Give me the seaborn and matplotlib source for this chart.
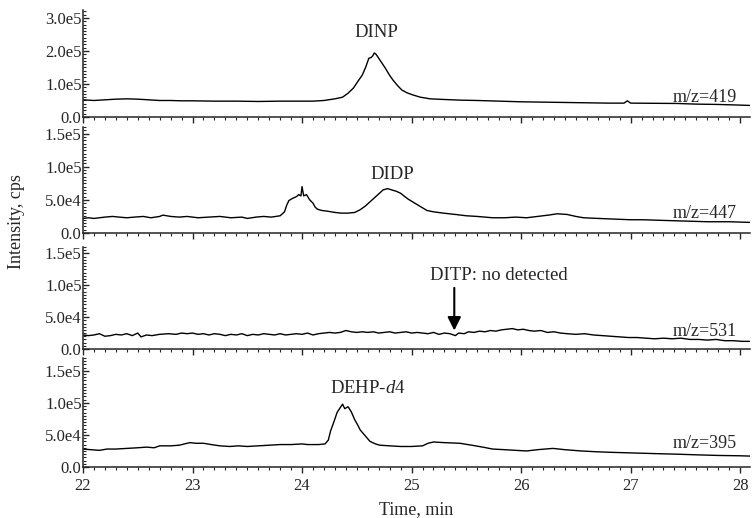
import numpy as np
import pandas as pd
import matplotlib
matplotlib.use("Agg")
import matplotlib.pyplot as plt
import seaborn as sns
from matplotlib.ticker import MultipleLocator, FuncFormatter

# ---------------- data (intensities in units of 1e4 cps) ----------------
t_419 = [22.0, 22.1, 22.2, 22.3, 22.4, 22.5, 22.6, 22.7, 22.8, 22.9, 23.0, 23.2, 23.4, 23.6, 23.8,
         24.0, 24.1, 24.2, 24.3, 24.37, 24.42, 24.47, 24.51, 24.55, 24.58, 24.61, 24.63, 24.645,
         24.66, 24.675, 24.69, 24.72, 24.76, 24.8, 24.83, 24.87, 24.91, 24.96, 25.01, 25.08, 25.17,
         25.3, 25.45, 25.6, 25.8, 26.0, 26.2, 26.4, 26.6, 26.8, 26.94, 26.97, 27.0, 27.2, 27.42,
         27.6, 27.8, 28.0, 28.09]
i_419 = [5.2, 5.0, 5.2, 5.4, 5.5, 5.4, 5.2, 5.0, 5.0, 4.9, 4.9, 4.8, 4.8, 4.7, 4.8,
         4.8, 4.8, 5.0, 5.5, 6.0, 7.2, 8.8, 10.8, 12.7, 15.0, 17.8, 18.0, 18.5,
         19.4, 19.0, 18.3, 16.8, 14.8, 12.6, 11.2, 9.6, 8.2, 7.3, 6.7, 6.0, 5.5,
         5.3, 5.1, 5.0, 4.8, 4.6, 4.5, 4.4, 4.3, 4.2, 4.2, 4.9, 4.2, 4.15, 4.1,
         3.9, 3.8, 3.6, 3.5]

t_447 = [22.0, 22.05, 22.1, 22.15, 22.2, 22.27, 22.33, 22.4, 22.47, 22.55, 22.62, 22.7, 22.73,
         22.8, 22.88, 22.95, 23.05, 23.15, 23.25, 23.35, 23.45, 23.5, 23.58, 23.65, 23.72, 23.8,
         23.84, 23.86, 23.88, 23.91, 23.95, 23.97, 23.99, 24.0, 24.015, 24.04, 24.07, 24.1, 24.12,
         24.14, 24.18, 24.23, 24.3, 24.36, 24.42, 24.48, 24.53, 24.58, 24.62, 24.66, 24.7, 24.74,
         24.78, 24.82, 24.86, 24.9, 24.93, 24.97, 25.01, 25.05, 25.08, 25.14, 25.2, 25.29, 25.4,
         25.5, 25.6, 25.74, 25.85, 25.95, 26.05, 26.15, 26.25, 26.33, 26.42, 26.5, 26.57, 26.7,
         26.85, 27.0, 27.11, 27.3, 27.5, 27.7, 27.9, 28.09]
i_447 = [2.2, 2.3, 2.2, 2.3, 2.4, 2.5, 2.4, 2.3, 2.4, 2.5, 2.3, 2.5, 2.7,
         2.5, 2.4, 2.5, 2.3, 2.4, 2.5, 2.3, 2.4, 2.2, 2.4, 2.5, 2.4, 2.6,
         3.2, 4.2, 4.9, 5.2, 5.5, 5.8, 5.6, 7.0, 5.6, 5.8, 5.0, 4.5, 3.9,
         3.6, 3.4, 3.3, 3.1, 3.0, 3.0, 3.1, 3.5, 4.1, 4.7, 5.3, 5.9, 6.5,
         6.7, 6.5, 6.3, 6.0, 5.6, 5.1, 4.7, 4.3, 4.0, 3.4, 3.2, 3.0, 2.8,
         2.6, 2.5, 2.3, 2.3, 2.4, 2.3, 2.5, 2.7, 2.9, 2.8, 2.5, 2.3, 2.2,
         2.1, 2.0, 2.0, 1.9, 1.8, 1.7, 1.7, 1.6]

t_531 = [22.0, 22.05, 22.1, 22.15, 22.2, 22.25, 22.3, 22.35, 22.4, 22.45, 22.5, 22.53, 22.58,
         22.63, 22.7, 22.78, 22.85, 22.9, 22.95, 23.0, 23.05, 23.1, 23.15, 23.2, 23.25, 23.3,
         23.35, 23.4, 23.45, 23.5, 23.55, 23.6, 23.65, 23.7, 23.75, 23.8, 23.85, 23.9, 23.95,
         24.0, 24.05, 24.1, 24.15, 24.2, 24.25, 24.3, 24.35, 24.4, 24.45, 24.5, 24.55, 24.6,
         24.65, 24.7, 24.75, 24.8, 24.85, 24.9, 24.95, 25.0, 25.05, 25.1, 25.15, 25.2, 25.25,
         25.3, 25.35, 25.4, 25.43, 25.48, 25.52, 25.57, 25.62, 25.67, 25.72, 25.77, 25.82, 25.87,
         25.92, 25.97, 26.02, 26.07, 26.12, 26.18, 26.24, 26.3, 26.36, 26.42, 26.5, 26.58, 26.66,
         26.74, 26.82, 26.9, 26.98, 27.06, 27.14, 27.22, 27.3, 27.38, 27.46, 27.54, 27.62, 27.7,
         27.78, 27.86, 27.94, 28.02, 28.09]
i_531 = [2.2, 2.1, 2.2, 2.4, 2.0, 2.1, 2.3, 2.2, 2.4, 2.1, 2.5, 1.9, 2.2,
         2.1, 2.3, 2.4, 2.3, 2.5, 2.4, 2.5, 2.3, 2.4, 2.2, 2.4, 2.3, 2.1,
         2.3, 2.2, 2.4, 2.1, 2.3, 2.2, 2.4, 2.3, 2.2, 2.4, 2.2, 2.3, 2.4,
         2.3, 2.5, 2.2, 2.4, 2.5, 2.6, 2.5, 2.6, 2.9, 2.7, 2.6, 2.7, 2.6,
         2.7, 2.5, 2.6, 2.7, 2.5, 2.6, 2.7, 2.5, 2.6, 2.5, 2.4, 2.6, 2.3,
         2.5, 2.4, 2.1, 2.5, 2.4, 2.7, 2.6, 2.8, 2.7, 2.9, 2.8, 3.0, 3.1,
         3.2, 3.0, 3.1, 2.9, 2.8, 2.9, 2.6, 2.7, 2.5, 2.4, 2.3, 2.4, 2.2,
         2.1, 2.0, 1.9, 1.8, 1.8, 1.7, 1.6, 1.7, 1.6, 1.7, 1.5, 1.5, 1.4,
         1.5, 1.3, 1.3, 1.2, 1.2]

t_395 = [22.0, 22.07, 22.15, 22.22, 22.3, 22.4, 22.5, 22.58, 22.65, 22.7, 22.8, 22.88, 22.95,
         22.98, 23.03, 23.1, 23.17, 23.25, 23.34, 23.42, 23.5, 23.6, 23.7, 23.8, 23.9, 24.0,
         24.05, 24.15, 24.21, 24.24, 24.26, 24.29, 24.32, 24.35, 24.37, 24.39, 24.42, 24.45,
         24.48, 24.51, 24.53, 24.57, 24.62, 24.67, 24.71, 24.8, 24.9, 25.0, 25.1, 25.15, 25.2,
         25.3, 25.44, 25.55, 25.65, 25.74, 25.85, 25.95, 26.05, 26.15, 26.29, 26.4, 26.55, 26.66,
         26.8, 27.0, 27.2, 27.42, 27.6, 27.8, 28.0, 28.09]
i_395 = [2.8, 2.7, 2.6, 2.8, 2.8, 2.9, 3.0, 3.1, 3.0, 3.3, 3.3, 3.4, 3.7,
         3.8, 3.7, 3.7, 3.5, 3.3, 3.2, 3.3, 3.2, 3.3, 3.4, 3.5, 3.5, 3.6,
         3.5, 3.5, 3.6, 4.2, 5.6, 7.0, 8.5, 9.3, 9.8, 9.1, 9.4, 8.6,
         7.4, 6.5, 5.8, 5.0, 4.0, 3.6, 3.4, 3.3, 3.2, 3.2, 3.3, 3.7, 3.9,
         3.8, 3.7, 3.4, 3.1, 2.8, 2.7, 2.6, 2.5, 2.7, 2.9, 2.7, 2.5, 2.4,
         2.3, 2.2, 2.1, 2.0, 1.9, 1.8, 1.75, 1.7]

mz_labels = ["m/z=419", "m/z=447", "m/z=531", "m/z=395"]
mz_label_y = [0.6e5, 0.3e5, 0.28e5, 0.36e5]
y_tops = [3.24e5, 1.6e5, 1.6e5, 1.7e5]
y_major = [1e5, 5e4, 5e4, 5e4]
y_minor = [1e4, 5e3, 5e3, 5e3]

traces = [(t_419, i_419), (t_447, i_447), (t_531, i_531), (t_395, i_395)]

# ---------------- styling ----------------
sns.set_style("ticks")
plt.rcParams["font.family"] = ["Liberation Serif", "DejaVu Serif"]
plt.rcParams["mathtext.fontset"] = "custom"
plt.rcParams["mathtext.rm"] = "Liberation Serif"
plt.rcParams["mathtext.it"] = "Liberation Serif:italic"

W, H = 752, 518
fig = plt.figure(figsize=(W / 100, H / 100), dpi=100)

# panel pixel extents (top, bottom)
panels_px = [(10, 117), (127, 233), (247, 349), (358, 467)]
left_px, right_px = 83, 750


def fmt(v, pos):
    if abs(v) < 1e-9:
        return "0.0"
    e = int(np.floor(np.log10(abs(v))))
    m = v / 10 ** e
    return f"{m:.1f}e{e}"


axes = []
for k, ((top, bot), (tt, ii)) in enumerate(zip(panels_px, traces)):
    ax = fig.add_axes([left_px / W, 1 - bot / H, (right_px - left_px) / W, (bot - top) / H])
    axes.append(ax)
    df = pd.DataFrame({"t": tt, "i": np.array(ii) * 1e4})
    sns.lineplot(data=df, x="t", y="i", ax=ax, color="black", lw=1.0, estimator=None, sort=False)
    ax.set_xlim(22, 28.09)
    ax.set_ylim(0, y_tops[k])
    ax.xaxis.set_major_locator(MultipleLocator(1))
    ax.xaxis.set_minor_locator(MultipleLocator(0.1))
    ax.yaxis.set_major_locator(MultipleLocator(y_major[k]))
    ax.yaxis.set_minor_locator(MultipleLocator(y_minor[k]))
    ax.yaxis.set_major_formatter(FuncFormatter(fmt))
    ax.tick_params(axis="y", which="major", direction="in", length=4, width=1, labelsize=12, pad=1)
    ax.tick_params(axis="y", which="minor", direction="in", length=2.5, width=0.8)
    ax.tick_params(axis="x", which="major", direction="out", length=4, width=1, labelsize=12, pad=4)
    ax.tick_params(axis="x", which="minor", direction="out", length=2.5, width=0.8)
    for s in ["top", "right"]:
        ax.spines[s].set_visible(False)
    for s in ["left", "bottom"]:
        ax.spines[s].set_linewidth(1.1)
    ax.set_xlabel("")
    ax.set_ylabel("")
    if k < 3:
        ax.tick_params(axis="x", labelbottom=False)
    ax.text(27.97, mz_label_y[k], mz_labels[k], ha="right", va="center", fontsize=13)
    ax.set_facecolor("white")

# peak annotations
axes[0].text(24.68, 2.55e5, "DINP", ha="center", va="center", fontsize=13.5)
axes[1].text(24.82, 0.89e5, "DIDP", ha="center", va="center", fontsize=13.5)
axes[2].text(25.80, 1.16e5, "DITP: no detected", ha="center", va="center", fontsize=13.5)
axes[2].annotate("", xy=(25.39, 2.9e4), xytext=(25.39, 0.96e5),
                 arrowprops=dict(arrowstyle="-|>,head_width=0.4,head_length=0.8",
                                 color="black", lw=1.5, shrinkA=0, shrinkB=0))
axes[3].text(24.6, 1.22e5, r"DEHP-$\mathit{d4}$", ha="center", va="center", fontsize=13.5)

axes[3].set_xlabel("Time, min", fontsize=13, labelpad=5)
fig.text(17 / W, 1 - 222 / H, "Intensity, cps", rotation=90, ha="center", va="center", fontsize=13)

fig.savefig("out.png", dpi=100, facecolor="white")
